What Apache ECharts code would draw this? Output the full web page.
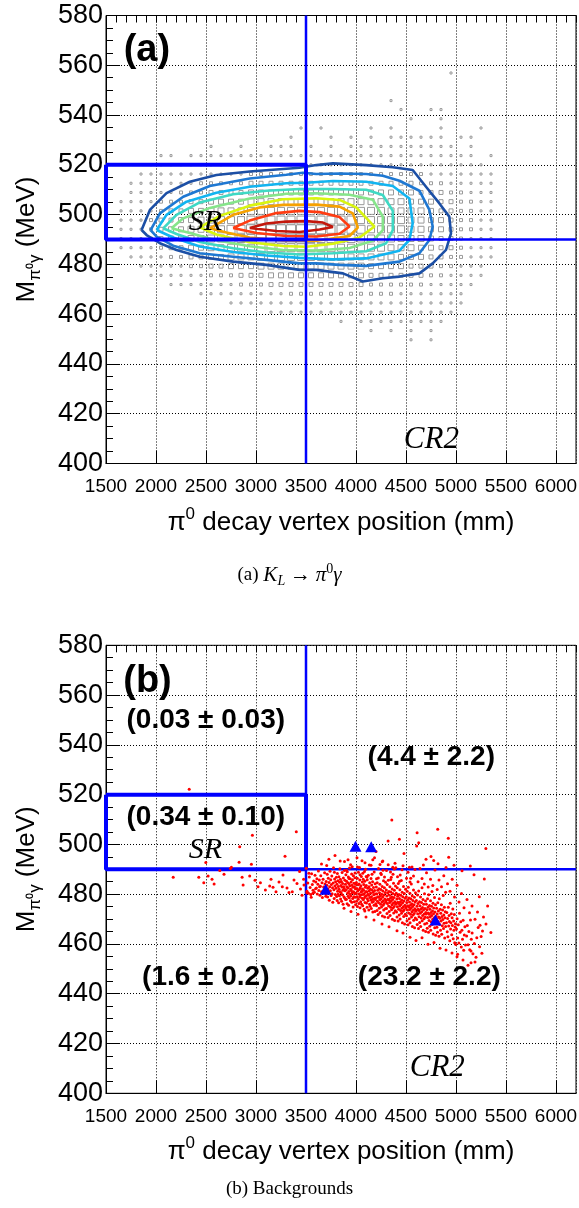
<!DOCTYPE html>
<html>
<head>
<meta charset="utf-8">
<script src="https://cdn.jsdelivr.net/npm/echarts@6.0.0/dist/echarts.min.js"></script>
<style>
html,body{margin:0;padding:0;background:#fff;}
#chart{width:579px;height:1208px;}
</style>
</head>
<body>
<div id="chart"></div>
<script>
// ---------- axes ----------
const xRange = [1500, 6200];
const yRange = [400, 580];
const xMajorStep = 500;
const yMajorStep = 20;
const xMinorStep = 100;

// ---------- selection cuts ----------
const srVertexRange = [1500, 3500];
const srMassRange = [490, 520];

// ---------- panel (a): K_L -> pi0 gamma MC, box histogram ----------
const histXCenters = [1550,1650,1750,1850,1950,2050,2150,2250,2350,2450,2550,2650,2750,2850,2950,3050,3150,3250,3350,3450,3550,3650,3750,3850,3950,4050,4150,4250,4350,4450,4550,4650,4750,4850,4950,5050,5150,5250,5350,5450];
const histYCenters = [556.9,553.2,549.5,545.8,542.2,538.5,534.8,531.1,527.4,523.7,520.0,516.3,512.6,508.9,505.2,501.5,497.8,494.1,490.4,486.7,483.0,479.3,475.6,471.9,468.2,464.5,460.8,457.1,453.4,449.7];
// bin content level (0..9), one string per row, columns as histXCenters
const histRows = [
"0000000000 0000000000 0000000000 0000100000",
"0000000000 0000000000 0000000000 0000000000",
"0000000000 0000000000 0000000000 0000000000",
"0000000000 0000000000 0000000010 0000000000",
"0000000000 0000000000 0000000001 0011000000",
"0000000000 0000000000 0000000000 1001000000",
"0000000000 0000000001 0100001010 0001000100",
"0000000000 0000000010 0010101011 1111011000",
"0000000000 1001001110 1010112111 2111101000",
"0000011011 1111211112 1121212121 2112111010",
"0000111111 1222222222 2222222222 2222211100",
"0001111222 2222333333 3333333333 3322221110",
"0011122223 3333444444 4444444444 4333222110",
"0011222333 4444555555 5555555555 5444332110",
"0112233344 5555666666 6666666666 5554433210",
"0112234455 6666777777 7777777766 6654433210",
"0122344556 6777888888 8888877777 6655433210",
"0122345566 7788999999 9988887777 6655433210",
"0122345566 7788899999 8888877776 6654432210",
"0112234455 6677788888 8887777766 6554432110",
"0011223344 5566677777 7777666665 5544332110",
"0001122233 4455566666 6666665555 4443322100",
"0000111222 3334445555 5555554444 4433221100",
"0000001111 2223334444 4444443333 3322211000",
"0000000001 1111222233 3333333332 2221110000",
"0000000000 0011111122 2222222222 2211110000",
"0000000000 0000001111 1111112111 1111100000",
"0000000000 0000000000 0001011111 1111000000",
"0000000000 0000000000 0000001010 1010000000",
"0000000000 0000000000 0000000000 1010000000"
];

// contour lines (vertex mm, mass MeV), outermost first
const contour1 = [[1856,493.8],[1939,501.9],[2105,508.6],[2338,513.2],[2604,515.9],[2937,517.3],[3203,518.1],[3436,518.8],[3603,519.9],[3769,520.6],[4102,519.9],[4368,519.0],[4567,517.9],[4700,511.2],[4834,504.5],[4933,499.2],[4950,492.5],[4900,485.8],[4767,480.4],[4634,476.4],[4434,475.1],[4268,474.4],[4068,473.1],[3869,476.4],[3603,477.8],[3436,477.8],[3104,479.8],[2771,481.1],[2438,483.1],[2205,485.8],[2039,488.5],[1906,491.8],[1856,493.8]];
const contour2 = [[1946,493.8],[2039,500.5],[2272,507.2],[2538,511.5],[2937,514.5],[3303,516.0],[3469,516.8],[3603,516.3],[3835,516.5],[4102,516.3],[4268,515.6],[4434,513.6],[4634,509.6],[4734,501.9],[4767,495.2],[4734,489.8],[4634,484.5],[4434,481.1],[4102,479.4],[3835,479.8],[3603,480.4],[3436,480.4],[3104,481.8],[2771,483.1],[2438,484.5],[2172,487.5],[2006,491.2],[1946,493.8]];
const contour3 = [[2006,493.8],[2105,499.9],[2305,505.2],[2604,508.8],[2937,511.2],[3303,512.6],[3503,512.8],[3769,513.5],[4102,513.2],[4368,511.5],[4534,506.5],[4567,496.5],[4534,489.8],[4434,485.5],[4102,482.4],[3769,482.0],[3436,482.6],[3104,483.6],[2771,485.0],[2438,487.2],[2172,490.8],[2006,493.8]];
const contour4 = [[2072,494.5],[2205,499.9],[2438,504.9],[2771,508.2],[3104,509.6],[3436,510.3],[3769,510.3],[4102,510.0],[4268,507.9],[4368,501.5],[4368,493.8],[4301,488.5],[4102,485.3],[3769,484.5],[3436,484.0],[3104,484.8],[2771,486.5],[2438,489.0],[2205,492.2],[2072,494.5]];
const contour5 = [[2155,494.5],[2272,498.5],[2538,502.7],[2937,506.5],[3303,508.4],[3603,508.6],[3935,508.0],[4168,506.0],[4268,499.2],[4268,493.8],[4168,489.5],[3935,486.6],[3603,485.6],[3270,485.8],[2937,487.3],[2604,489.7],[2338,492.6],[2155,494.5]];
const contour6 = [[2438,494.9],[2638,499.5],[2937,503.6],[3270,506.2],[3603,506.6],[3835,505.9],[4002,502.9],[4185,495.2],[4035,490.8],[3769,488.3],[3503,487.1],[3270,487.4],[2937,488.9],[2604,492.0],[2438,494.9]];
const contour7 = [[2538,494.5],[2771,499.9],[3037,502.9],[3270,503.9],[3603,504.0],[3835,503.2],[3968,500.5],[4018,494.8],[3935,491.4],[3603,489.5],[3270,489.6],[2937,490.8],[2704,492.8],[2538,494.5]];
const contour8 = [[2771,494.6],[2937,497.6],[3203,500.6],[3436,501.5],[3636,501.0],[3835,499.0],[3935,495.2],[3835,492.3],[3603,491.2],[3303,491.4],[3004,492.6],[2771,494.6]];
const contour9 = [[2937,494.6],[3104,496.4],[3303,497.2],[3503,497.4],[3669,496.8],[3769,495.0],[3636,494.0],[3436,493.0],[3203,493.4],[2937,494.6]];
const contours = [contour1,contour2,contour3,contour4,contour5,contour6,contour7,contour8,contour9];
const contourColors = ['#1c4fa5','#1f78d2','#12b4f0','#3fd9c4','#86e58a','#d9f50f','#f7a100','#ff3c12','#c3170c'];

// ---------- panel (b): background events (vertex mm, mass MeV) ----------
const bgSparse = [[2332,522.2],[4358,509.8],[3403,505.1],[2964,503.7],[4611,504.7],[4817,506.1],[4923,502.5],[4321,501.4],[4434,502.1],[4627,500.7],[4607,499.4],[2837,499.1],[3290,495.2],[5299,498.4],[2498,492.7],[2831,492.8],[2954,492.0],[2754,490.8],[2744,490.3],[2638,489.5],[2172,486.8],[2428,486.8],[2521,487.3],[2478,484.6],[2581,484.1],[2861,486.8],[2871,483.7],[2937,487.3],[3044,484.6],[3094,481.7],[3137,483.3],[3170,482.8],[3270,487.7],[3263,483.0],[3380,485.7],[3363,481.0],[3436,489.1],[3476,486.0],[3503,490.4],[3529,488.4],[3509,480.6],[3569,480.4],[3636,483.0],[3729,494.0],[3842,493.3],[3885,493.1],[4035,490.7],[4068,488.4],[4102,487.1],[4168,493.8],[4268,493.3],[4368,490.8],[4384,490.1],[4534,490.8],[4674,491.7],[4750,495.1],[4777,493.5],[4900,490.7],[4927,494.8],[5143,491.3],[5283,486.1],[5233,479.0],[5316,475.3],[5349,464.6],[5259,456.3],[5200,454.7],[5150,452.5],[5150,457.2],[5016,455.9],
[3150,486.0],[3200,481.0],[3230,484.9],[3310,482.5],[3330,480.7],[3410,484.3],[3445,482.1],[3460,479.6],[3480,483.7],[2990,485.6],[3020,483.0],[2680,488.0],[2560,486.0],
[3655,492.1],[3790,495.5],[3920,493.8],[4010,494.6],[4090,492.6],[4200,497.2],[4240,491.9],[4390,492.4],[4480,496.3],[4560,490.9],[4700,494.0],[4820,492.2],[4980,491.6],[5060,489.4],[5180,487.8]];
const bgUpper = [[3905,489.6],[3930,486.3],[3962,491.0],[3990,488.5],[4015,490.9],[4040,487.8],[4060,493.4],[4085,489.1],[4110,486.9],[4133,491.7],[4160,488.0],[4185,494.6],[4205,486.2],[4225,490.3],[4248,488.4],[4262,493.0],[4285,486.9],[4305,489.5],[4322,491.8],[4347,485.9],[4370,488.0],[4398,490.6],[4415,487.0],[4436,485.2],[4460,489.8],[4470,491.4],[4505,486.4],[4520,488.8],[4540,484.9],[4575,487.3],[4590,489.9],[4620,485.0],[4640,490.3],[4660,486.3],[4683,484.1],[4705,488.6],[4722,482.9],[4745,486.0],[4768,483.5],[4790,489.7],[4812,481.9],[4830,485.7],[4855,483.0],[4878,487.4],[4896,480.8],[4915,484.2],[4940,481.2],[4962,486.0],[4985,478.9],[5010,483.6],[5030,476.9],[5055,480.3],[5080,474.6],[5110,477.9],[5135,472.5],[5160,475.3],[5190,469.9],[5215,472.8],[5240,467.5],[5265,465.2],[5300,468.0]];
const bgLower = [[3880,474.4],[3950,473.0],[4020,471.9],[4100,470.8],[4180,469.6],[4260,468.0],[4330,466.9],[4410,465.3],[4470,464.4],[4540,462.7],[4600,461.4],[4660,462.5],[4720,459.9],[4780,460.6],[4840,458.3],[4900,457.6],[4960,456.4],[5010,454.9],[5070,453.6],[5120,451.4],[5190,452.8]];
const bgBand = [
[3510,481.2],[3518,484.5],[3525,480.4],[3533,486.9],[3541,482.7],[3548,479.9],[3556,488.2],[3563,483.9],[3570,481.6],[3577,485.3],[3584,480.8],[3590,487.6],[3595,482.2],[3598,484.9],[3552,478.8],
[3604,482.5],[3609,486.2],[3613,480.1],[3619,484.0],[3624,489.3],[3628,481.5],[3633,485.7],[3639,479.6],[3644,483.2],[3648,487.4],[3655,481.0],[3660,484.6],[3664,478.7],[3671,486.0],[3676,482.9],[3681,480.5],[3686,488.6],[3690,484.1],[3694,481.7],[3698,479.2],
[3702,485.1],[3705,480.3],[3709,483.6],[3712,488.0],[3716,478.9],[3719,482.1],[3723,486.4],[3726,480.9],[3730,484.7],[3733,477.6],[3737,483.0],[3740,489.2],[3744,481.4],[3747,485.8],[3751,479.5],[3754,483.9],[3758,487.3],[3761,480.2],[3765,482.6],[3768,476.8],[3772,484.5],[3775,490.6],[3779,481.8],[3782,478.3],[3786,486.1],[3789,483.3],[3793,479.9],[3796,485.0],[3707,491.5],[3784,488.8],
[3801,482.4],[3804,486.8],[3806,479.1],[3809,484.0],[3811,477.5],[3814,488.3],[3816,481.2],[3819,485.4],[3821,480.0],[3824,483.1],[3826,476.6],[3829,487.0],[3831,482.0],[3834,479.4],[3836,484.8],[3839,490.2],[3841,481.0],[3844,486.0],[3846,478.1],[3849,483.5],[3851,480.6],[3854,485.1],[3856,477.2],[3859,482.9],[3861,488.7],[3864,479.8],[3866,484.3],[3869,481.6],[3871,476.0],[3874,486.5],[3876,483.0],[3879,479.0],[3881,482.3],[3884,489.5],[3886,478.5],[3889,485.6],[3891,481.4],[3894,484.0],[3896,477.9],[3899,487.8],
[3902,481.8],[3904,478.0],[3906,485.2],[3908,483.0],[3911,476.2],[3913,489.0],[3915,480.4],[3917,484.6],[3920,479.2],[3922,482.5],[3924,486.9],[3926,475.6],[3929,481.1],[3931,484.2],[3933,478.6],[3935,490.5],[3938,483.4],[3940,480.0],[3942,486.2],[3944,477.4],[3947,482.0],[3949,479.4],[3951,484.9],[3953,481.5],[3956,488.1],[3958,476.8],[3960,483.6],[3962,480.6],[3965,485.8],[3967,478.3],[3969,482.8],[3971,474.9],[3974,487.4],[3976,481.0],[3978,479.0],[3980,484.4],[3983,477.0],[3985,483.0],[3987,480.2],[3989,486.6],[3992,478.8],[3994,482.2],[3996,475.8],[3998,484.0],[3946,491.8],
[4002,480.5],[4004,484.7],[4006,477.2],[4009,482.3],[4011,479.0],[4013,486.4],[4015,475.1],[4018,481.4],[4020,483.8],[4022,478.0],[4024,488.8],[4027,480.1],[4029,476.3],[4031,484.1],[4033,481.9],[4036,478.9],[4038,485.7],[4040,474.6],[4042,482.6],[4045,479.6],[4047,477.0],[4049,483.4],[4051,480.8],[4054,487.1],[4056,476.0],[4058,481.2],[4060,478.4],[4063,484.9],[4065,482.1],[4067,475.4],[4069,479.9],[4072,486.0],[4074,477.8],[4076,481.6],[4078,483.9],[4081,473.9],[4083,480.3],[4085,478.6],[4087,485.2],[4090,476.7],[4092,482.8],[4094,479.2],[4096,490.0],[4098,481.0],[4088,473.2],
[4101,479.3],[4103,483.5],[4105,476.5],[4108,481.0],[4110,474.8],[4112,485.8],[4114,478.2],[4117,482.4],[4119,480.0],[4121,477.4],[4123,487.6],[4126,479.6],[4128,473.6],[4130,483.0],[4132,481.3],[4135,476.0],[4137,484.6],[4139,478.7],[4141,475.2],[4144,482.0],[4146,480.4],[4148,477.7],[4150,486.3],[4153,474.3],[4155,479.0],[4157,483.7],[4159,481.7],[4162,476.8],[4164,478.0],[4166,485.0],[4168,472.8],[4171,480.8],[4173,477.1],[4175,482.7],[4177,479.8],[4180,475.6],[4182,488.9],[4184,478.4],[4186,481.5],[4189,473.0],[4191,484.2],[4193,477.9],[4195,480.1],[4198,476.2],[4150,491.6],
[4201,478.6],[4203,482.9],[4205,475.4],[4208,480.2],[4210,473.4],[4212,484.6],[4214,477.2],[4217,481.6],[4219,479.0],[4221,471.8],[4223,486.5],[4226,476.6],[4228,478.8],[4230,482.2],[4232,474.4],[4235,480.6],[4237,477.8],[4239,484.0],[4241,472.6],[4244,479.4],[4246,476.0],[4248,481.9],[4250,478.2],[4253,487.9],[4255,474.9],[4257,480.0],[4259,476.9],[4262,483.1],[4264,471.2],[4266,478.9],[4268,481.3],[4271,475.6],[4273,477.4],[4275,485.4],[4277,473.6],[4280,479.7],[4282,476.3],[4284,482.6],[4286,470.8],[4289,478.1],[4291,480.7],[4293,474.1],[4295,484.8],[4298,477.0],[4270,489.6],
[4301,477.6],[4303,481.7],[4305,474.2],[4308,479.3],[4310,472.2],[4312,483.9],[4314,476.3],[4317,480.5],[4319,478.0],[4321,470.6],[4323,485.6],[4326,475.3],[4328,477.7],[4330,481.1],[4332,473.0],[4335,479.6],[4337,476.7],[4339,483.0],[4341,471.4],[4344,478.4],[4346,474.8],[4348,480.9],[4350,477.2],[4353,486.8],[4355,473.7],[4357,479.0],[4359,475.8],[4362,482.1],[4364,469.9],[4366,477.9],[4368,480.3],[4371,474.5],[4373,476.4],[4375,484.4],[4377,472.4],[4380,478.7],[4382,475.1],[4384,481.6],[4386,469.4],[4389,477.0],[4391,479.8],[4393,473.3],[4395,483.3],[4398,476.0],[4345,488.9],
[4401,476.4],[4403,480.4],[4405,472.8],[4408,478.1],[4410,470.8],[4412,482.6],[4414,475.0],[4417,479.2],[4419,476.8],[4421,469.2],[4423,484.3],[4426,473.9],[4428,476.3],[4430,479.9],[4432,471.6],[4435,478.3],[4437,475.3],[4439,481.8],[4441,470.0],[4444,477.0],[4446,473.4],[4448,479.6],[4450,475.9],[4453,485.5],[4455,472.3],[4457,477.7],[4459,474.4],[4462,480.8],[4464,468.5],[4466,476.6],[4468,479.0],[4471,473.1],[4473,475.0],[4475,483.1],[4477,471.0],[4480,477.3],[4482,473.7],[4484,480.3],[4486,468.0],[4489,475.6],[4491,478.4],[4493,471.9],[4495,482.0],[4498,474.6],[4442,487.7],
[4501,475.0],[4503,479.0],[4505,471.3],[4508,476.7],[4510,469.3],[4512,481.2],[4514,473.6],[4517,477.8],[4519,475.4],[4521,467.7],[4523,482.8],[4526,472.4],[4528,474.9],[4530,478.5],[4532,470.1],[4535,476.9],[4537,473.8],[4539,480.4],[4541,468.5],[4544,475.6],[4546,471.9],[4548,478.2],[4550,474.4],[4553,484.1],[4555,470.8],[4557,476.2],[4559,472.9],[4562,479.4],[4564,467.0],[4566,475.1],[4568,477.5],[4571,471.6],[4573,473.5],[4575,481.7],[4577,469.5],[4580,475.8],[4582,472.2],[4584,478.8],[4586,466.5],[4589,474.1],[4591,476.9],[4593,470.4],[4595,480.6],[4598,473.1],[4547,486.4],
[4602,473.5],[4604,477.5],[4607,469.8],[4610,475.2],[4612,467.8],[4615,479.7],[4617,472.1],[4620,476.3],[4622,473.9],[4625,466.2],[4627,481.3],[4630,470.9],[4632,473.4],[4635,477.0],[4637,468.6],[4640,475.4],[4642,472.3],[4645,478.9],[4647,467.0],[4650,474.1],[4652,470.4],[4655,476.7],[4657,472.9],[4660,482.6],[4662,469.3],[4665,474.7],[4667,471.4],[4670,477.9],[4672,465.5],[4675,473.6],[4677,476.0],[4680,470.1],[4682,472.0],[4685,480.2],[4687,468.0],[4690,474.3],[4692,470.7],[4695,477.3],[4697,465.0],[4699,472.6],
[4702,472.0],[4704,476.0],[4707,468.3],[4710,473.7],[4712,466.3],[4715,478.2],[4717,470.6],[4720,474.8],[4722,472.4],[4725,464.7],[4727,479.8],[4730,469.4],[4732,471.9],[4735,475.5],[4737,467.1],[4740,473.9],[4742,470.8],[4745,477.4],[4747,465.5],[4750,472.6],[4752,468.9],[4755,475.2],[4757,471.4],[4760,481.1],[4762,467.8],[4765,473.2],[4767,469.9],[4770,476.4],[4772,464.0],[4775,472.1],[4777,474.5],[4780,468.6],[4782,470.5],[4785,478.7],[4787,466.5],[4790,472.8],[4792,469.2],[4795,475.8],[4797,463.5],[4799,471.1],
[4803,470.3],[4806,474.4],[4809,466.7],[4812,472.0],[4815,464.7],[4818,476.6],[4821,469.0],[4824,473.2],[4827,470.8],[4830,463.1],[4833,478.2],[4836,467.8],[4839,470.3],[4842,473.9],[4845,465.5],[4848,472.3],[4851,469.2],[4854,475.8],[4857,463.9],[4860,471.0],[4863,467.3],[4866,473.6],[4869,469.8],[4872,479.5],[4875,466.2],[4878,471.6],[4881,468.3],[4884,474.8],[4887,462.4],[4890,470.5],[4893,472.9],[4896,467.0],
[4904,468.5],[4908,472.6],[4912,464.9],[4916,470.2],[4919,462.9],[4923,474.8],[4927,467.2],[4931,471.4],[4934,469.0],[4938,461.3],[4942,476.4],[4946,466.0],[4949,468.5],[4953,472.1],[4957,463.7],[4961,470.5],[4964,467.4],[4968,474.0],[4972,462.1],[4976,469.2],[4979,465.5],[4983,471.8],[4987,460.5],[4991,466.8],[4994,468.1],[4998,459.8],
[5005,466.0],[5011,470.1],[5017,462.4],[5023,467.7],[5029,460.4],[5035,472.3],[5041,464.7],[5047,468.9],[5053,458.8],[5059,465.5],[5065,461.9],[5071,469.5],[5077,457.5],[5083,463.6],[5089,466.9],[5095,459.6],
[5106,463.2],[5113,467.4],[5121,459.7],[5129,465.0],[5137,457.7],[5145,469.6],[5153,461.9],[5161,464.4],[5169,456.1],[5183,460.2],
[5208,462.5],[5222,466.6],[5236,458.9],[5251,463.0],[5275,470.8]
];
const sigVertex = [3995,4152,3696,4794];
const sigMass = [499.3,499.1,482.0,469.6];

// ---------- texts ----------
const panelTags = ['(a)','(b)'];
const regionNames = ['SR','CR2'];
const bgYields = ['(0.03 \u00b1 0.03)','(4.4 \u00b1 2.2)','(0.34 \u00b1 0.10)','(1.6 \u00b1 0.2)','(23.2 \u00b1 2.2)'];
const xTitle = 'decay vertex position (mm)';
const yTitleUnit = ' (MeV)';

// ================== build ==================
const SANS = 'Liberation Sans, Arial, sans-serif';
const SERIF = 'Liberation Serif, Times New Roman, serif';
const BLUE = '#0000ff';

const grids = [
  {left:106, top:15.5, width:470, height:448},
  {left:106, top:645.3, width:470, height:448}
];

function mkXAxis(gi){
  return {
    gridIndex:gi, type:'value', min:xRange[0], max:xRange[1], interval:xMajorStep,
    axisLine:{show:true, onZero:false, lineStyle:{color:'#000', width:1}},
    axisTick:{show:true, inside:true, length:13, lineStyle:{color:'#000'}},
    axisLabel:{color:'#000', fontSize:19, fontFamily:SANS, margin:14, showMaxLabel:false, formatter:(v)=>String(v)},
    splitLine:{show:true, lineStyle:{color:'#000', width:1, type:[1,2]}},
    name:'{p|\u03c0}{s|0}{t| ' + xTitle + '}', nameLocation:'middle', nameGap:42,
    nameTextStyle:{color:'#000', fontFamily:SANS, rich:{
      p:{fontSize:26, fontFamily:SANS, color:'#000', lineHeight:30, verticalAlign:'bottom'},
      s:{fontSize:17, fontFamily:SANS, color:'#000', lineHeight:30, verticalAlign:'top', padding:[0,0,8,0]},
      t:{fontSize:26, fontFamily:SANS, color:'#000', lineHeight:30, verticalAlign:'bottom'}
    }}
  };
}
function mkXMinor(gi){
  return {
    gridIndex:gi, type:'value', min:xRange[0], max:xRange[1], interval:xMinorStep,
    axisLine:{show:false}, axisLabel:{show:false}, splitLine:{show:false}, name:'',
    axisTick:{show:true, inside:true, length:7, lineStyle:{color:'#000'}}
  };
}
function mkYAxis(gi){
  return {
    gridIndex:gi, type:'value', min:yRange[0], max:yRange[1], interval:yMajorStep,
    axisLine:{show:true, onZero:false, lineStyle:{color:'#000', width:1}},
    axisTick:{show:true, inside:true, length:14, lineStyle:{color:'#000'}},
    minorTick:{show:true, splitNumber:4, length:7, lineStyle:{color:'#000'}},
    axisLabel:{color:'#000', fontSize:27, fontFamily:SANS, margin:3},
    splitLine:{show:true, lineStyle:{color:'#000', width:1, type:[1,2]}},
    name:'{m|M}{s|\u03c0\u2070\u03b3}{u|' + yTitleUnit + '}', nameLocation:'middle', nameRotate:90, nameGap:62,
    nameTextStyle:{rich:{
      m:{fontSize:26, fontFamily:SANS, color:'#000', lineHeight:34, verticalAlign:'middle'},
      s:{fontSize:17, fontFamily:SANS, color:'#000', lineHeight:18, verticalAlign:'bottom'},
      u:{fontSize:26, fontFamily:SANS, color:'#000', lineHeight:34, verticalAlign:'middle'}
    }}
  };
}

const series = [];

// histogram boxes
const boxData = [];
histRows.forEach((row, ri) => {
  const vals = row.replace(/ /g,'').split('').map(Number);
  vals.forEach((v, ci) => { if (v > 0) boxData.push([histXCenters[ci], histYCenters[ri], v]); });
});
series.push({
  type:'scatter', xAxisIndex:0, yAxisIndex:0, symbol:'rect', silent:true, z:2,
  symbolSize: (val) => Math.max(2, val[2] * 1.0),
  itemStyle:{color:'rgba(0,0,0,0)', borderColor:'#9a9a9a', borderWidth:1, opacity:1},
  data: boxData, animation:false
});

// contours
contours.forEach((c, i) => {
  series.push({
    type:'line', xAxisIndex:0, yAxisIndex:0, data:c, showSymbol:false, symbol:'none', silent:true, z:3,
    lineStyle:{color:contourColors[i], width:2.6}, animation:false
  });
});

// cut lines for both panels
[0,1].forEach(gi => {
  series.push({
    type:'line', xAxisIndex:gi*2, yAxisIndex:gi, symbol:'none', silent:true, z:4, animation:false,
    lineStyle:{color:BLUE, width:4},
    data:[[srVertexRange[0],srMassRange[1]],[srVertexRange[1],srMassRange[1]],[srVertexRange[1],srMassRange[0]],[srVertexRange[0],srMassRange[0]],[srVertexRange[0],srMassRange[1]]]
  });
  series.push({
    type:'line', xAxisIndex:gi*2, yAxisIndex:gi, symbol:'none', silent:true, z:4, animation:false,
    lineStyle:{color:BLUE, width:2.5},
    data:[[srVertexRange[1],yRange[0]],[srVertexRange[1],yRange[1]]]
  });
  series.push({
    type:'line', xAxisIndex:gi*2, yAxisIndex:gi, symbol:'none', silent:true, z:4, animation:false,
    lineStyle:{color:BLUE, width:2.5},
    data:[[srVertexRange[1],srMassRange[0]],[xRange[1],srMassRange[0]]]
  });
});

// background scatter
series.push({
  type:'scatter', xAxisIndex:2, yAxisIndex:1, symbol:'circle', symbolSize:3, silent:true, z:5, animation:false,
  itemStyle:{color:'#ff0000', opacity:1},
  data: bgSparse.concat(bgUpper, bgLower, bgBand)
});
series.push({
  type:'scatter', xAxisIndex:2, yAxisIndex:1, symbol:'triangle', symbolSize:[12,11], silent:true, z:6, animation:false,
  itemStyle:{color:'#0000ff', opacity:1},
  data: sigVertex.map((x,i)=>[x,sigMass[i]])
});

// text labels (placed in data coordinates)
function textSeries(gi, items){
  return {
    type:'scatter', xAxisIndex:gi*2, yAxisIndex:gi, symbolSize:0, silent:true, z:10, animation:false,
    itemStyle:{opacity:1},
    data: items.map(it => ({value:[it.x,it.y], label:{show:true, position:'inside', formatter:it.t, opacity:1,
      fontFamily:it.f, fontSize:it.s, fontWeight:it.w||'normal', fontStyle:it.i?'italic':'normal', color:'#000'}}))
  };
}
series.push(textSeries(0, [
  {t:panelTags[0], x:1909, y:566.1, f:SANS, s:38, w:'bold'},
  {t:regionNames[0], x:2495, y:496.9, f:SERIF, s:30, i:true},
  {t:regionNames[1], x:4754, y:409.5, f:SERIF, s:31, i:true}
]));
series.push(textSeries(1, [
  {t:panelTags[1], x:1915, y:565.6, f:SANS, s:38, w:'bold'},
  {t:bgYields[0], x:2498, y:550.0, f:SANS, s:28, w:'bold'},
  {t:bgYields[1], x:4753, y:535.1, f:SANS, s:28, w:'bold'},
  {t:bgYields[2], x:2498, y:510.7, f:SANS, s:28, w:'bold'},
  {t:bgYields[3], x:2498, y:446.8, f:SANS, s:28, w:'bold'},
  {t:bgYields[4], x:4733, y:446.8, f:SANS, s:28, w:'bold'},
  {t:regionNames[0], x:2495, y:497.8, f:SERIF, s:30, i:true},
  {t:regionNames[1], x:4813, y:410.2, f:SERIF, s:31, i:true}
]));

const option = {
  animation:false,
  backgroundColor:'#fff',
  grid: grids.map(g => Object.assign({show:true, borderColor:'#000', borderWidth:1, outerBoundsMode:'none', containLabel:false}, g)),
  xAxis:[mkXAxis(0), mkXMinor(0), mkXAxis(1), mkXMinor(1)],
  yAxis:[mkYAxis(0), mkYAxis(1)],
  series: series,
  graphic:[
    {type:'text', left:'center', top:562, style:{
      text:'(a) {i|K}{sub|L} {a|\u2192} {i|\u03c0}{sup|0}{i|\u03b3}', font:'19px ' + SERIF, fill:'#000',
      rich:{i:{fontStyle:'italic', fontSize:21, fontFamily:SERIF, lineHeight:26, verticalAlign:'middle'},
            a:{fontSize:21, fontFamily:SERIF, lineHeight:26, verticalAlign:'middle'},
            sub:{fontStyle:'italic', fontSize:14, fontFamily:SERIF, lineHeight:14, verticalAlign:'bottom'},
            sup:{fontSize:14, fontFamily:SERIF, lineHeight:14, verticalAlign:'top'}}
    }},
    {type:'text', left:'center', top:1180, style:{text:'(b) Backgrounds', font:'19px ' + SERIF, fill:'#000'}}
  ]
};

const chart = echarts.init(document.getElementById('chart'), null, {renderer:'canvas'});
chart.setOption(option);
</script>
</body>
</html>
